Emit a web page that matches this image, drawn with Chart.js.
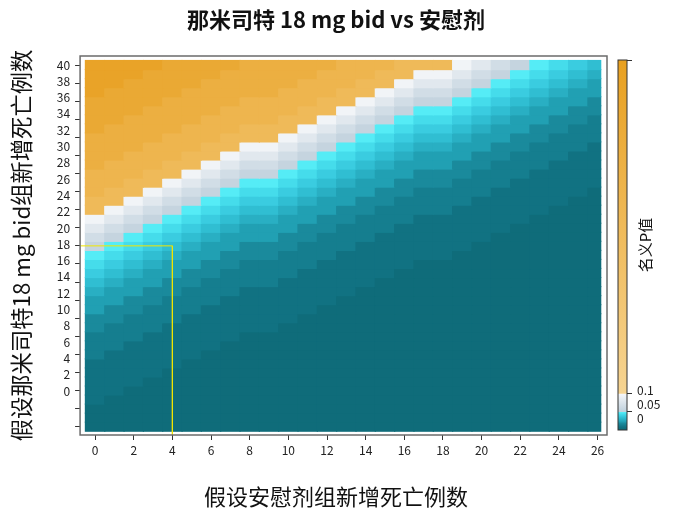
<!DOCTYPE html>
<html>
<head>
<meta charset="utf-8">
<script src="https://cdn.jsdelivr.net/npm/chart.js@4.4.0/dist/chart.umd.min.js"></script>
<style>
  html, body { margin: 0; padding: 0; background: #fff; overflow: hidden; }
  #wrap { position: relative; width: 689px; height: 526px; }
  #main { position: absolute; left: 0; top: 0; width: 670px; height: 526px; }
  #bar { position: absolute; left: 608px; top: 0; width: 81px; height: 526px; }
</style>
</head>
<body>
<div id="wrap">
  <div id="main"><canvas id="heat"></canvas></div>
  <div id="bar"><canvas id="cbar"></canvas></div>
</div>
<script>
// columns: new deaths in placebo group
const placeboDeaths = [0, 1, 2, 3, 4, 5, 6, 7, 8, 9, 10, 11, 12, 13, 14, 15, 16, 17, 18, 19, 20, 21, 22, 23, 24, 25, 26];
// rows, top to bottom
const drugRows = [40, 39, 38, 37, 36, 35, 34, 33, 32, 31, 30, 29, 28, 27, 26, 25, 24, 23, 22, 21, 20,
                  19, 18, 17, 16, 15, 14, 13, 12, 11, 10, 9, 8, 7, 6, 5, 4, 3, 2, 1, 0];

// nominal p value per cell, one code per column
const pCodes = [
  'AAAABBBBCCCCCDDDEEEwxyz9876',
  'AAABBBBCCCCCDDDEEwwxyz98765',
  'AABBBBCCCCCDDDEEwxxyz987654',
  'ABBBBCCCCCDDDEEwxyyz9876544',
  'BBBBCCCCDDDDEEwxyzz98765443',
  'BBBCCCCDDDDEEwxyz9987654433',
  'BBCCCCDDDDEEwxyz98876544332',
  'BCCCCDDDEEEwxyz987765443322',
  'CCCCDDDEEEwxyz9876654433222',
  'CCCDDDEEwwxyz98765544332221',
  'CCDDDEEwxxyz987654443322211',
  'CDDDEEwxyyz9876544433222111',
  'DDDEEwxyzz98765443332221111',
  'DDEEwxyz9987654433322211111',
  'DEEwxyz98876544332222111110',
  'EEwxyz987765443322221111100',
  'Ewxyz9876654433222211111000',
  'wxyz98765544332221111110000',
  'xyz987654443322211111100000',
  'yz9876544433222111111000000',
  'z98765443332221111110000000',
  '987654433322211111100000000',
  '876544332222111110000000000',
  '765443322221111100000000000',
  '654433222211111000000000000',
  '544332221111110000000000000',
  '443322211111100000000000000',
  '433222111111000000000000000',
  '332221111110000000000000000',
  '322211111100000000000000000',
  '222111110000000000000000000',
  '221111100000000000000000000',
  '211111000000000000000000000',
  '111110000000000000000000000',
  '111100000000000000000000000',
  '111000000000000000000000000',
  '110000000000000000000000000',
  '100000000000000000000000000',
  '000000000000000000000000000',
  '000000000000000000000000000',
  '000000000000000000000000000'
];
const pByCode = {
  A: 0.94, B: 0.84, C: 0.74, D: 0.64, E: 0.55,
  w: 0.095, x: 0.08, y: 0.066, z: 0.055,
  '9': 0.048, '8': 0.043, '7': 0.038, '6': 0.033, '5': 0.028,
  '4': 0.023, '3': 0.018, '2': 0.013, '1': 0.008, '0': 0.003
};

const xTickLabels = ['0', '2', '4', '6', '8', '10', '12', '14', '16', '18', '20', '22', '24', '26'];
const yTickLabels = ['0', '2', '4', '6', '8', '10', '12', '14', '16', '18', '20',
                     '22', '24', '26', '28', '30', '32', '34', '36', '38', '40'];
const cbTickMarks = [0.05, 0.1, 1];
const cbMarkLabels = ['', '', '1'];
const cbLabelValues = [0, 0.05, 0.1];
const cbLabels = ['0', '0.05', '0.1'];

const highlight = { placebo: 4, drug: 20 };

// colour map, three bands
const tealStops = [[0, '#0d6674'], [0.003, '#0f6c7a'], [0.008, '#117282'], [0.013, '#157e8f'],
                   [0.018, '#1a8a9c'], [0.023, '#21a0b3'], [0.028, '#29afc3'], [0.033, '#30bed2'],
                   [0.038, '#3acce0'], [0.043, '#45dceb'], [0.05, '#5cf2fa']];
const greyStops = [[0.05, '#bfd0dc'], [0.1, '#f7f8fa']];
const orangeStops = [[0.1, '#f6d492'], [1, '#e8a020']];
const cbBands = [tealStops, greyStops, orangeStops];

Chart.defaults.font.family = "'Noto Sans CJK SC', 'Noto Sans', sans-serif";
Chart.defaults.color = '#222';

function hexToRgb(h) {
  const n = parseInt(h.slice(1), 16);
  return [(n >> 16) & 255, (n >> 8) & 255, n & 255];
}

function pColor(p) {
  const stops = p < 0.05 ? tealStops : p < 0.1 ? greyStops : orangeStops;
  for (let i = 1; i < stops.length; i++) {
    if (p <= stops[i][0] || i === stops.length - 1) {
      const [p0, c0] = stops[i - 1];
      const [p1, c1] = stops[i];
      const t = Math.min(1, Math.max(0, (p - p0) / (p1 - p0)));
      const a = hexToRgb(c0), b = hexToRgb(c1);
      return 'rgb(' + a.map((v, k) => Math.round(v + (b[k] - v) * t)).join(',') + ')';
    }
  }
}

// axis ranges (frame is a bit larger than the cells)
const xMin = -0.776, xMax = 26.487;
const yMin = -0.92, yMax = 41.0;
const heatRight = 26.16; // last column is cut off in the figure

const framePlugin = {
  id: 'frame',
  afterDatasetsDraw(chart, args, opts) {
    const { ctx, chartArea: a } = chart;
    ctx.save();
    ctx.strokeStyle = opts.color;
    ctx.lineWidth = opts.width;
    ctx.strokeRect(a.left, a.top, a.right - a.left, a.bottom - a.top);
    ctx.restore();
  }
};

const heatSets = drugRows.map((r, i) => ({
  type: 'bar',
  data: placeboDeaths.map(c => ({ y: r, x: [c - 0.5, Math.min(c + 0.5, heatRight)] })),
  backgroundColor: placeboDeaths.map(c => pColor(pByCode[pCodes[i][c] || '0'])),
  borderWidth: 0,
  inflateAmount: 0.6,
  grouped: false,
  barPercentage: 1,
  categoryPercentage: 1
}));

const markLine = {
  type: 'line',
  indexAxis: 'x',
  order: -1,
  data: [
    { x: xMin, y: highlight.drug },
    { x: highlight.placebo, y: highlight.drug },
    { x: highlight.placebo, y: yMin }
  ],
  borderColor: '#f2e600',
  borderWidth: 1,
  pointRadius: 0,
  fill: false,
  tension: 0
};

new Chart(document.getElementById('heat'), {
  type: 'bar',
  data: { datasets: [...heatSets, markLine] },
  options: {
    indexAxis: 'y',
    responsive: true,
    maintainAspectRatio: false,
    animation: false,
    layout: { padding: { left: 2, right: 0, top: 0, bottom: 7.8 } },
    plugins: {
      legend: { display: false },
      tooltip: { enabled: false },
      title: {
        display: true,
        text: '那米司特 18 mg bid vs 安慰剂',
        color: '#111',
        font: { size: 22, weight: 'bold' },
        padding: { top: 6.8, bottom: 22.8 }
      },
      subtitle: {
        display: true,
        position: 'bottom',
        text: '假设安慰剂组新增死亡例数',
        color: '#111',
        font: { size: 22 },
        padding: { top: 23.4, bottom: 8 }
      },
      frame: { color: '#6b6b6b', width: 1.5 }
    },
    scales: {
      x: {
        type: 'linear',
        position: 'bottom',
        offset: false,
        min: xMin,
        max: xMax,
        afterBuildTicks: s => { s.ticks = xTickLabels.map(v => ({ value: Number(v) })); },
        ticks: { autoSkip: false, maxRotation: 0, padding: 3, font: { size: 12 },
                 callback: (v, i) => xTickLabels[i] },
        grid: { offset: false, drawOnChartArea: false, tickLength: 5, tickColor: '#333' },
        border: { display: false }
      },
      y: {
        type: 'linear',
        position: 'left',
        weight: 0,
        offset: false,
        min: yMin,
        max: yMax,
        afterBuildTicks: s => { s.ticks = yTickLabels.map(v => ({ value: Number(v) })); },
        ticks: { display: false },
        grid: { offset: false, drawOnChartArea: false, tickLength: 5, tickColor: '#333' },
        border: { display: false }
      },
      yLab: {
        type: 'linear',
        position: 'left',
        weight: 1,
        offset: false,
        min: -5.4,
        max: 41.1,
        afterBuildTicks: s => { s.ticks = yTickLabels.map(v => ({ value: Number(v) })); },
        ticks: { autoSkip: false, padding: 5, font: { size: 12 },
                 callback: (v, i) => yTickLabels[i] },
        grid: { offset: false, display: false, drawTicks: false },
        border: { display: false },
        title: { display: true, text: '假设那米司特18 mg bid组新增死亡例数', color: '#111',
                 font: { size: 22.3 }, padding: { top: 6, bottom: 17 } }
      },
      // empty strip on the right, kept free for the colour bar
      yRight: {
        type: 'linear',
        position: 'right',
        offset: false,
        ticks: { display: false },
        grid: { display: false, drawTicks: false },
        border: { display: false },
        afterFit: s => { s.width = 63; }
      }
    }
  },
  plugins: [framePlugin]
});

// colour bar
const orangeBandLength = 18.2; // 0.1-1 band is drawn much taller than the two low bands
function pToPos(p) {
  if (p <= 0.05) return p / 0.05;
  if (p <= 0.1) return 1 + (p - 0.05) / 0.05;
  return 2 + (p - 0.1) / 0.9 * orangeBandLength;
}

function bandFill(ctx) {
  const chart = ctx.chart;
  const stops = cbBands[ctx.dataIndex];
  if (!chart.chartArea) return stops[0][1];
  const ys = chart.scales.y;
  const lo = stops[0][0], hi = stops[stops.length - 1][0];
  const g = chart.ctx.createLinearGradient(0, ys.getPixelForValue(pToPos(lo)), 0, ys.getPixelForValue(pToPos(hi)));
  stops.forEach(([p, c]) => g.addColorStop((p - lo) / (hi - lo), c));
  return g;
}

const cbTitlePlugin = {
  id: 'cbTitle',
  afterDraw(chart, args, opts) {
    const { ctx, chartArea: a } = chart;
    ctx.save();
    ctx.translate(a.right + opts.offset, (a.top + a.bottom) / 2);
    ctx.rotate(-Math.PI / 2);
    ctx.font = opts.size + 'px ' + Chart.defaults.font.family;
    ctx.fillStyle = '#111';
    ctx.textAlign = 'center';
    ctx.textBaseline = 'middle';
    ctx.fillText(opts.text, 0, 0);
    ctx.restore();
  }
};

new Chart(document.getElementById('cbar'), {
  type: 'bar',
  data: {
    labels: ['p'],
    datasets: [{
      data: cbBands.map(s => ({ x: 'p', y: [pToPos(s[0][0]), pToPos(s[s.length - 1][0])] })),
      backgroundColor: bandFill,
      borderWidth: 0,
      barPercentage: 1,
      categoryPercentage: 1
    }]
  },
  options: {
    responsive: true,
    maintainAspectRatio: false,
    animation: false,
    layout: { padding: { left: 10, right: 0, top: 60, bottom: 96 } },
    plugins: {
      legend: { display: false },
      tooltip: { enabled: false },
      frame: { color: '#333', width: 1 },
      cbTitle: { text: '名义P值', offset: 18, size: 15 }
    },
    scales: {
      x: { type: 'category', display: false },
      y: {
        type: 'linear',
        position: 'right',
        weight: 0,
        min: 0,
        max: pToPos(1),
        afterBuildTicks: s => { s.ticks = cbTickMarks.map(p => ({ value: pToPos(p) })); },
        afterFit: s => { s.width = 6; },
        ticks: { autoSkip: false, padding: 5, font: { size: 12 }, callback: (v, i) => cbMarkLabels[i] },
        grid: { drawOnChartArea: false, tickLength: 5, tickColor: '#333' },
        border: { display: false }
      },
      yLab: {
        type: 'linear',
        position: 'right',
        weight: 1,
        min: -0.857,
        max: 25.57,
        afterBuildTicks: s => { s.ticks = cbLabelValues.map(p => ({ value: pToPos(p) })); },
        afterFit: s => { s.width = 56; },
        ticks: { autoSkip: false, padding: 4, font: { size: 12 }, callback: (v, i) => cbLabels[i] },
        grid: { display: false, drawTicks: false },
        border: { display: false }
      }
    }
  },
  plugins: [framePlugin, cbTitlePlugin]
});
</script>
</body>
</html>
